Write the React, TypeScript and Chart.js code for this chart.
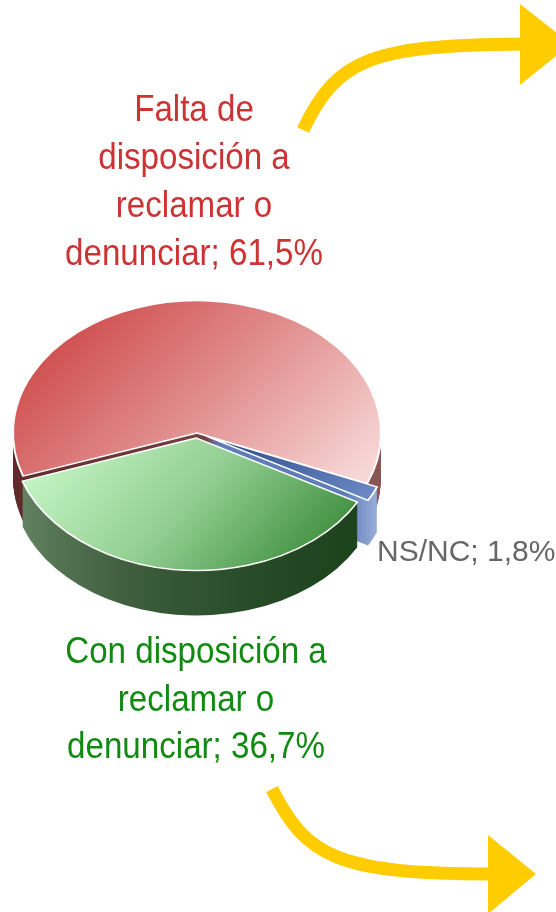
import { useEffect, useRef } from "react";
import { Chart, registerables } from "chart.js";

Chart.register(...registerables);

// ---- data ----
const categories = [
  "Falta de disposición a reclamar o denunciar",
  "NS/NC",
  "Con disposición a reclamar o denunciar",
];
const values = [61.5, 1.8, 36.7];
const valueLabels = ["61,5%", "1,8%", "36,7%"];
const labelLines = [
  ["Falta de", "disposición a", "reclamar o", "denunciar; " + valueLabels[0]],
  ["NS/NC; " + valueLabels[1]],
  ["Con disposición a", "reclamar o", "denunciar; " + valueLabels[2]],
];

// ---- styling ----
const baseColors = ["#d85c5c", "#5a78b4", "#7cc47c"];
const textColors = ["#cc3333", "#666666", "#118a11"];
const offsets = [0, 11, 7];
const RATIO = 0.72;
const DEPTH = 45;

const pie3d = {
  id: "pie3d",
  beforeDatasetsDraw(chart: any) {
    const ctx: CanvasRenderingContext2D = chart.ctx;
    const meta = chart.getDatasetMeta(0);
    const arcs = meta.data;
    if (!arcs.length) return false;
    const cx = arcs[0].x;
    const cy = arcs[0].y;
    const r = arcs[0].outerRadius;
    const geom = arcs.map((a: any) => {
      const p = a.getProps(["x", "y", "startAngle", "endAngle", "outerRadius"], true);
      const off = a.options.offset || 0;
      const mid = (p.startAngle + p.endAngle) / 2;
      return { ...p, dx: Math.cos(mid) * off, dy: Math.sin(mid) * off };
    });
    const path = (g: any) => {
      ctx.beginPath();
      ctx.moveTo(g.x + g.dx, g.y + g.dy);
      ctx.arc(g.x + g.dx, g.y + g.dy, g.outerRadius, g.startAngle, g.endAngle);
      ctx.closePath();
    };
    const mk = (x0: number, y0: number, x1: number, y1: number, stops: [number, string][]) => {
      const gr = ctx.createLinearGradient(x0, y0, x1, y1);
      stops.forEach(([o, c]) => gr.addColorStop(o, c));
      return gr;
    };
    const sideFills = [
      mk(cx - r, cy, cx + r, cy, [[0, "#5e2a2a"], [1, "#8a5555"]]),
      mk(cx + r * 0.8, cy, cx + r, cy, [[0, "#5f7cb8"], [1, "#9fb3dc"]]),
      mk(cx - r, cy, cx + r * 0.8, cy + r, [[0, "#6c8c6c"], [0.5, "#3e5e3e"], [1, "#173e17"]]),
    ];
    const topFills = [
      mk(cx - r * 0.8, cy - r, cx + r * 0.9, cy + r * 0.3, [[0, "#cc4242"], [0.5, "#e08a8a"], [1, "#f7d6d6"]]),
      mk(cx + r * 0.2, cy, cx + r, cy + r * 0.5, [[0, "#2f4f8c"], [1, "#6f8cc8"]]),
      mk(cx - r * 0.8, cy, cx + r * 0.7, cy + r, [[0, "#c8f7c8"], [0.5, "#93cf93"], [1, "#3a8a3a"]]),
    ];
    const setT = (k: number) => {
      ctx.translate(0, k);
      ctx.translate(cx, cy);
      ctx.scale(1, RATIO);
      ctx.translate(-cx, -cy);
    };
    for (let k = DEPTH; k >= 1; k--) {
      geom.forEach((g: any, i: number) => {
        ctx.save();
        setT(k);
        path(g);
        ctx.fillStyle = sideFills[i];
        ctx.fill();
        ctx.restore();
      });
    }
    geom.forEach((g: any, i: number) => {
      ctx.save();
      setT(0);
      path(g);
      ctx.fillStyle = topFills[i];
      ctx.fill();
      ctx.lineWidth = 2;
      ctx.lineJoin = "round";
      ctx.strokeStyle = "#ffffff";
      ctx.stroke();
      ctx.restore();
    });
    return false;
  },
  afterDraw(chart: any) {
    const ctx: CanvasRenderingContext2D = chart.ctx;
    // labels
    const drawLines = (lines: string[], x: number, y0: number, step: number, size: number, sx: number, color: string, align: CanvasTextAlign) => {
      ctx.save();
      ctx.font = `${size}px "Liberation Sans", Arial, sans-serif`;
      ctx.fillStyle = color;
      ctx.textAlign = align;
      ctx.textBaseline = "alphabetic";
      lines.forEach((l, j) => {
        ctx.save();
        ctx.translate(x, y0 + j * step);
        ctx.scale(sx, 1);
        ctx.fillText(l, 0, 0);
        ctx.restore();
      });
      ctx.restore();
    };
    drawLines(labelLines[0], 194, 121, 48, 36, 0.92, textColors[0], "center");
    drawLines(labelLines[1], 377, 561, 48, 30, 1, textColors[1], "left");
    drawLines(labelLines[2], 196, 663, 47.5, 36, 0.92, textColors[2], "center");

    // arrows
    ctx.save();
    ctx.strokeStyle = "#ffcc00";
    ctx.fillStyle = "#ffcc00";
    ctx.lineWidth = 13;
    ctx.lineCap = "butt";
    ctx.beginPath();
    ctx.moveTo(303, 130);
    ctx.bezierCurveTo(337, 60, 368, 45, 524, 44);
    ctx.stroke();
    ctx.beginPath();
    ctx.moveTo(520, 4);
    ctx.lineTo(571, 44);
    ctx.lineTo(520, 85);
    ctx.closePath();
    ctx.fill();

    ctx.beginPath();
    ctx.moveTo(272, 789);
    ctx.bezierCurveTo(306, 856, 336, 874, 492, 874);
    ctx.stroke();
    ctx.beginPath();
    ctx.moveTo(488, 835);
    ctx.lineTo(536, 874);
    ctx.lineTo(488, 914);
    ctx.closePath();
    ctx.fill();
    ctx.restore();
  },
};

export default function App() {
  const ref = useRef<HTMLCanvasElement | null>(null);
  useEffect(() => {
    if (!ref.current) return;
    const chart = new Chart(ref.current, {
      type: "pie",
      data: {
        labels: categories,
        datasets: [
          {
            data: values,
            backgroundColor: baseColors,
            borderColor: "#ffffff",
            borderWidth: 2,
            offset: offsets,
          },
        ],
      },
      options: {
        animation: false,
        responsive: false,
        rotation: 251,
        radius: 184,
        layout: { padding: { left: 0, right: 162, top: 0, bottom: 46 } },
        plugins: {
          legend: { display: false },
          tooltip: { enabled: false },
        },
      } as any,
      plugins: [pie3d as any],
    });
    return () => chart.destroy();
  }, []);
  return (
    <div style={{ position: "fixed", left: 0, top: 0, width: 556, height: 912, background: "#fff" }}>
      <canvas ref={ref} width={556} height={912} style={{ display: "block" }} />
    </div>
  );
}
